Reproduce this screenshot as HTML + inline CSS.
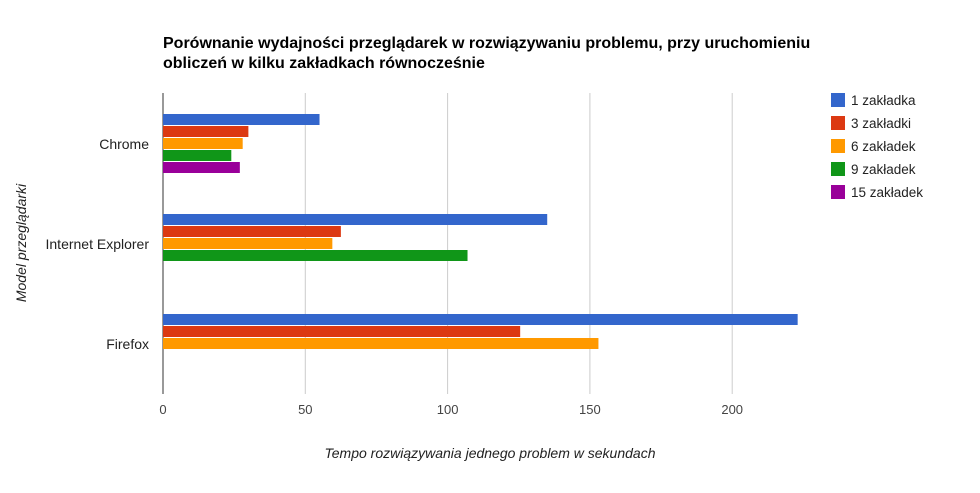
<!DOCTYPE html>
<html><head><meta charset="utf-8"><style>
body{margin:0;background:#fff;font-family:"Liberation Sans",Arial,sans-serif}
svg text{font-family:"Liberation Sans",Arial,sans-serif}
</style></head><body>
<svg id="chart" width="980" height="488" xmlns="http://www.w3.org/2000/svg">
<rect width="980" height="488" fill="#fff"/>
<text x="163" y="48" font-size="16" font-weight="bold" fill="#000">Porównanie wydajności przeglądarek w rozwiązywaniu problemu, przy uruchomieniu</text>
<text x="163" y="68" font-size="16" font-weight="bold" fill="#000">obliczeń w kilku zakładkach równocześnie</text>
<g id="grid"></g><g id="bars"></g><g id="labels"></g><g id="legend"></g>
<text x="490" y="458" font-size="14" font-style="italic" text-anchor="middle" fill="#222">Tempo rozwiązywania jednego problem w sekundach</text>
<text transform="translate(26,243) rotate(-90)" font-size="14" font-style="italic" text-anchor="middle" fill="#222">Model przeglądarki</text>
</svg>
<script>
const categories=["Chrome","Internet Explorer","Firefox"];
const seriesNames=["1 zakładka","3 zakładki","6 zakładek","9 zakładek","15 zakładek"];
const colors=["#3366cc","#dc3912","#ff9900","#109618","#990099"];
const s1=[55,135,223];
const s3=[30,62.5,125.5];
const s6=[28,59.5,153];
const s9=[24,107,null];
const s15=[27,null,null];
const series=[s1,s3,s6,s9,s15];
const xTicks=[0,50,100,150,200];
const ns="http://www.w3.org/2000/svg";
const x0=163,pxPer=2.846,plotTop=93,plotBottom=394,groupH=100;
const xs=v=>x0+v*pxPer;
const yc=i=>plotTop+51+i*groupH;
function mk(t,a,p){const e=document.createElementNS(ns,t);for(const k in a)e.setAttribute(k,a[k]);p.appendChild(e);return e;}
const grid=document.getElementById('grid'),bars=document.getElementById('bars'),labels=document.getElementById('labels'),legend=document.getElementById('legend');
xTicks.forEach(t=>{
 if(t>0){const l=mk('line',{x1:xs(t),x2:xs(t),y1:plotTop,y2:plotBottom,stroke:'#ccc'},grid);
 
 }
 const tx=mk('text',{x:xs(t),y:414,'font-size':13,'text-anchor':'middle',fill:'#444'},labels);tx.textContent=t;
 
 
});
const ax=mk('line',{x1:x0,x2:x0,y1:plotTop,y2:plotBottom,stroke:'#333'},grid);


categories.forEach((c,i)=>{
 const tx=mk('text',{x:149,y:yc(i)+5,'font-size':14,'text-anchor':'end',fill:'#222'},labels);tx.textContent=c;
 
 
 series.forEach((s,j)=>{
  if(s[i]==null)return;
  const r=mk('rect',{x:x0,y:yc(i)-30+j*12,width:xs(s[i])-x0,height:11,fill:colors[j]},bars);
  
  
 });
});
seriesNames.forEach((n,j)=>{
 const y=93+j*23;
 const r=mk('rect',{x:831,y:y,width:14,height:14,fill:colors[j]},legend);
 
 
 const t=mk('text',{x:851,y:y+12,'font-size':13.5,fill:'#222'},legend);t.textContent=n;
 
 
});
</script>
</body></html>
